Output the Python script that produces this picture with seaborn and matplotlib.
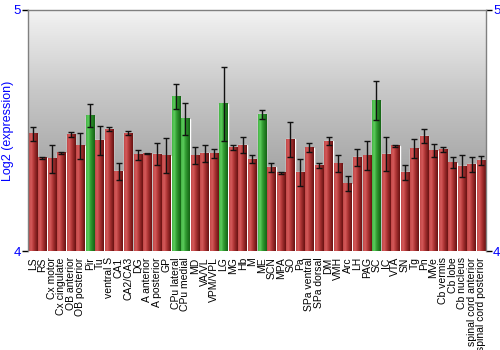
import numpy as np
import pandas as pd
import matplotlib
matplotlib.use("Agg")
import matplotlib.pyplot as plt
import seaborn as sns
from matplotlib.colors import LinearSegmentedColormap

regions = ["LS", "RS", "Cx motor", "Cx cingulate", "OB anterior", "OB posterior", "Pir", "Tu",
           "ventral S", "CA1", "CA2/CA3", "DG", "A anterior", "A posterior", "GP", "CPu lateral",
           "CPu medial", "MD", "VA/VL", "VPM/VPL", "LG", "MG", "Hb", "M", "ME", "SCN", "MPA", "SO",
           "Pa", "SPa ventral", "SPa dorsal", "DM", "VMH", "Arc", "LH", "PAG", "SC", "IC", "VTA",
           "SN", "Tg", "Pn", "MVe", "Cb vermis", "Cb lobe", "Cb nucleus", "spinal cord anterior",
           "spinal cord posterior"]
expression = [4.486, 4.387, 4.383, 4.407, 4.483, 4.436, 4.562, 4.459,
              4.506, 4.330, 4.488, 4.399, 4.405, 4.401, 4.396, 4.641,
              4.548, 4.396, 4.405, 4.403, 4.610, 4.431, 4.439, 4.381, 4.568, 4.348, 4.325, 4.463,
              4.326, 4.428, 4.355, 4.456, 4.363, 4.280, 4.388, 4.396, 4.624, 4.401, 4.436,
              4.326, 4.425, 4.477, 4.417, 4.421, 4.366, 4.351, 4.359,
              4.376]
errors = [0.030, 0.005, 0.058, 0.004, 0.011, 0.055, 0.049, 0.061,
          0.008, 0.037, 0.008, 0.021, 0.003, 0.046, 0.073, 0.050,
          0.065, 0.035, 0.034, 0.019, 0.154, 0.010, 0.032, 0.017, 0.019, 0.019, 0.004, 0.072,
          0.057, 0.019, 0.010, 0.016, 0.037, 0.032, 0.036, 0.060, 0.081, 0.070, 0.003,
          0.030, 0.039, 0.030, 0.026, 0.009, 0.023, 0.046, 0.032,
          0.019]
highlight = ["Pir", "CPu lateral", "CPu medial", "LG", "ME", "SC"]

df = pd.DataFrame({"region": regions, "expr": expression, "err": errors})
df["group"] = np.where(df["region"].isin(highlight), "high", "base")

sns.set_style("white")
plt.rcParams["font.family"] = ["Liberation Sans", "DejaVu Sans"]

fig = plt.figure(figsize=(5, 3.5), dpi=100)
ax = fig.add_axes([28 / 500, 1 - 251 / 350, 458 / 500, 241 / 350])

sns.barplot(data=df, x="region", y="expr", hue="group",
            palette={"base": "#b83a3a", "high": "#3aa83a"},
            width=0.88, dodge=False, legend=False, ax=ax, errorbar=None, zorder=2)

n = len(regions)

# background gradient: light at top, darker towards bottom
bg = LinearSegmentedColormap.from_list("bg", ["#f3f3f3", "#c8c8c8", "#a6a6a6", "#959595"])
ax.imshow(np.linspace(1, 0, 256).reshape(-1, 1), cmap=bg, aspect="auto",
          extent=(-0.5, n - 0.5, 4, 5), zorder=0, origin="lower")

# cylinder shading on bars
red_cm = LinearSegmentedColormap.from_list("r", ["#c24848", "#d45a5a", "#b53a3a", "#8c2424", "#6a1212"])
green_cm = LinearSegmentedColormap.from_list("g", ["#45b445", "#5ccc5c", "#34a034", "#237f23", "#146414"])
grad = np.linspace(0, 1, 64).reshape(1, -1)
for patch in list(ax.patches):
    x0 = patch.get_x()
    w = patch.get_width()
    h = patch.get_height()
    if h <= 0:
        continue
    fc = patch.get_facecolor()
    cm = green_cm if fc[1] > fc[0] else red_cm
    ax.imshow(grad, cmap=cm, aspect="auto", extent=(x0, x0 + w, 4, h), zorder=2.5)

ax.set_ylim(4, 5)
ax.set_xlim(-0.5, n - 0.5)

ax.errorbar(np.arange(n), df["expr"], yerr=df["err"], fmt="none",
            ecolor="#111111", elinewidth=1.0, capsize=2, capthick=1.0, zorder=4)

ax.set_yticks([4, 5])
ax.set_yticklabels(["4", "5"])
ax.tick_params(axis="y", which="both", left=True, right=True, labelleft=True, labelright=True,
               direction="out", length=4, width=1, color="black", labelcolor="#0000ff",
               labelsize=9.5, pad=1)
ax.tick_params(axis="x", bottom=False, labelsize=7.5, pad=1, labelcolor="black")
ax.set_xticks(range(n))
ax.set_xticklabels(regions, rotation=90)
ax.set_xlabel("")
ax.set_ylabel("Log2 (expression)", color="#0000ff", fontsize=9)
ax.yaxis.set_label_coords(-0.03, 0.5)

for side in ["left", "top", "right"]:
    ax.spines[side].set_color("#808080")
    ax.spines[side].set_linewidth(1)
    ax.spines[side].set_visible(True)
ax.spines["bottom"].set_visible(False)

fig.savefig("out.png", dpi=100)
